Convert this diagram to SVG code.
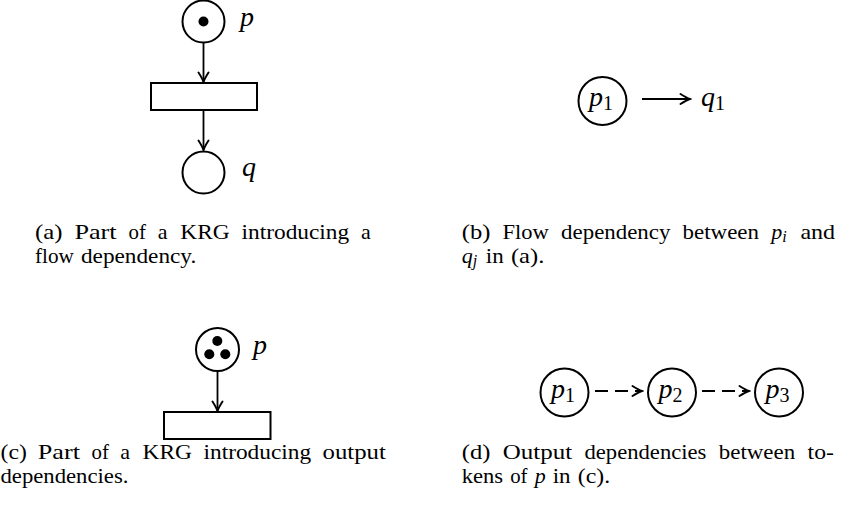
<svg xmlns="http://www.w3.org/2000/svg" width="862" height="529" viewBox="0 0 862 529">
<style>
.place{fill:none;stroke:#000;stroke-width:2}
.trans{fill:#fff;stroke:#000;stroke-width:2}
.tok{fill:#000}
.arc{fill:none;stroke:#000;stroke-width:1.8}
.dash{stroke-dasharray:13 7}
.lbl{font-family:"Liberation Serif","Times New Roman",serif;font-style:italic;font-size:28px;fill:#000}
.sub{font-family:"Liberation Serif","Times New Roman",serif;font-style:normal;font-size:20px}
.cap text{font-family:"Liberation Serif","Times New Roman",serif;font-size:22px;fill:#000}
.mi{font-style:italic}
.cs{font-size:16px}
</style>
<defs>
<marker id="arr" viewBox="-12 -7 14 14" refX="0" refY="0" markerWidth="14" markerHeight="14" markerUnits="userSpaceOnUse" orient="auto">
<path d="M-9.5,-5 Q-3.5,-1.2 0,0 Q-3.5,1.2 -9.5,5" fill="none" stroke="#000" stroke-width="1.9" stroke-linecap="round"/>
</marker>
</defs>

<g id="connectors">
<line class="arc" x1="203.5" y1="43" x2="203.5" y2="82" marker-end="url(#arr)"/>
<line class="arc" x1="203.5" y1="110" x2="203.5" y2="150" marker-end="url(#arr)"/>
<line class="arc" x1="642" y1="99" x2="690" y2="99" marker-end="url(#arr)"/>
<line class="arc" x1="217.5" y1="371" x2="217.5" y2="411" marker-end="url(#arr)"/>
<line class="arc dash" x1="595" y1="391" x2="642" y2="391" marker-end="url(#arr)"/>
<line class="arc dash" x1="702" y1="391" x2="749" y2="391" marker-end="url(#arr)"/>
</g>

<!-- (a) -->
<g id="a-p">
<circle class="place" cx="203.5" cy="21.5" r="21"/>
<circle class="tok" cx="203.5" cy="21.5" r="5"/>
<text class="lbl" x="240" y="26">p</text>
</g>
<g id="a-t">
<rect class="trans" x="151" y="83" width="106" height="27"/>
</g>
<g id="a-q">
<circle class="place" cx="203.5" cy="172.5" r="21"/>
<text class="lbl" x="242" y="176">q</text>
</g>
<g id="cap-a" class="cap">
<text x="35" y="239" textLength="27.5" lengthAdjust="spacingAndGlyphs">(a)</text>
<text x="74.4" y="239" textLength="42.2" lengthAdjust="spacingAndGlyphs">Part</text>
<text x="128.5" y="239" textLength="17.3" lengthAdjust="spacingAndGlyphs">of</text>
<text x="157.7" y="239">a</text>
<text x="180.3" y="239" textLength="49.4" lengthAdjust="spacingAndGlyphs">KRG</text>
<text x="241.6" y="239" textLength="107.6" lengthAdjust="spacingAndGlyphs">introducing</text>
<text x="361.1" y="239">a</text>
<text x="35" y="263" textLength="38.8" lengthAdjust="spacingAndGlyphs">flow</text>
<text x="81" y="263" textLength="115.3" lengthAdjust="spacingAndGlyphs">dependency.</text>
</g>

<!-- (b) -->
<g id="b-p1">
<circle class="place" cx="602.5" cy="101" r="24"/>
<text class="lbl" x="589" y="106">p<tspan class="sub" dy="4">1</tspan></text>
</g>
<g id="b-q1">
<text class="lbl" x="701" y="106">q<tspan class="sub" dy="4">1</tspan></text>
</g>
<g id="cap-b" class="cap">
<text x="461.7" y="239" textLength="28.7" lengthAdjust="spacingAndGlyphs">(b)</text>
<text x="502.6" y="239" textLength="46.3" lengthAdjust="spacingAndGlyphs">Flow</text>
<text x="561.1" y="239" textLength="109.3" lengthAdjust="spacingAndGlyphs">dependency</text>
<text x="682.6" y="239" textLength="76.4" lengthAdjust="spacingAndGlyphs">between</text>
<text x="771.2" y="239" class="mi">p<tspan class="cs" dy="3">i</tspan></text>
<text x="800.4" y="239" textLength="34.7" lengthAdjust="spacingAndGlyphs">and</text>
<text x="461.7" y="263" class="mi">q<tspan class="cs" dy="3">j</tspan></text>
<text x="485.8" y="263" textLength="17.9" lengthAdjust="spacingAndGlyphs">in</text>
<text x="510.9" y="263" textLength="33.5" lengthAdjust="spacingAndGlyphs">(a).</text>
</g>

<!-- (c) -->
<g id="c-p">
<circle class="place" cx="217.5" cy="349.5" r="21.5"/>
<circle class="tok" cx="217.3" cy="341" r="5"/>
<circle class="tok" cx="209.3" cy="354.3" r="5"/>
<circle class="tok" cx="225.3" cy="354.3" r="5"/>
<text class="lbl" x="253" y="354">p</text>
</g>
<g id="c-t">
<rect class="trans" x="164" y="412" width="106.5" height="27"/>
</g>
<g id="cap-c" class="cap">
<text x="0.5" y="459" textLength="26.3" lengthAdjust="spacingAndGlyphs">(c)</text>
<text x="37.8" y="459" textLength="42.2" lengthAdjust="spacingAndGlyphs">Part</text>
<text x="91.5" y="459" textLength="17.3" lengthAdjust="spacingAndGlyphs">of</text>
<text x="120.3" y="459">a</text>
<text x="142.6" y="459" textLength="49.4" lengthAdjust="spacingAndGlyphs">KRG</text>
<text x="203.5" y="459" textLength="107.6" lengthAdjust="spacingAndGlyphs">introducing</text>
<text x="322.6" y="459" textLength="63.3" lengthAdjust="spacingAndGlyphs">output</text>
<text x="0.5" y="483" textLength="127.9" lengthAdjust="spacingAndGlyphs">dependencies.</text>
</g>

<!-- (d) -->
<g id="d-p1">
<circle class="place" cx="564.5" cy="392.5" r="24"/>
<text class="lbl" x="551" y="397.5">p<tspan class="sub" dy="4">1</tspan></text>
</g>
<g id="d-p2">
<circle class="place" cx="672" cy="392.5" r="24"/>
<text class="lbl" x="658.5" y="397.5">p<tspan class="sub" dy="4">2</tspan></text>
</g>
<g id="d-p3">
<circle class="place" cx="779" cy="392.5" r="24"/>
<text class="lbl" x="765.5" y="397.5">p<tspan class="sub" dy="4">3</tspan></text>
</g>
<g id="cap-d" class="cap">
<text x="461.7" y="459" textLength="28.7" lengthAdjust="spacingAndGlyphs">(d)</text>
<text x="502.8" y="459" textLength="69.3" lengthAdjust="spacingAndGlyphs">Output</text>
<text x="584.5" y="459" textLength="121.9" lengthAdjust="spacingAndGlyphs">dependencies</text>
<text x="718.8" y="459" textLength="76.4" lengthAdjust="spacingAndGlyphs">between</text>
<text x="807.6" y="459" textLength="26.3" lengthAdjust="spacingAndGlyphs">to-</text>
<text x="461.7" y="483" textLength="41.3" lengthAdjust="spacingAndGlyphs">kens</text>
<text x="510.2" y="483" textLength="17.3" lengthAdjust="spacingAndGlyphs">of</text>
<text x="534.7" y="483" class="mi">p</text>
<text x="552.7" y="483" textLength="17.9" lengthAdjust="spacingAndGlyphs">in</text>
<text x="577.8" y="483" textLength="32.3" lengthAdjust="spacingAndGlyphs">(c).</text>
</g>
</svg>
